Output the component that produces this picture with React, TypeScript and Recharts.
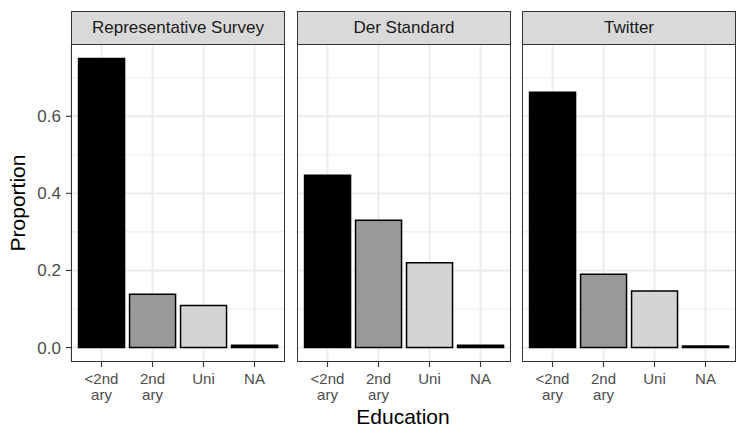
import React from 'react';
import { BarChart, Bar, XAxis, YAxis, CartesianGrid, Cell } from 'recharts';

const categories = ['<2nd ary', '2nd ary', 'Uni', 'NA'];
const facets = ['Representative Survey', 'Der Standard', 'Twitter'];
const surveyValues = [0.75, 0.138, 0.109, 0.006];
const standardValues = [0.447, 0.33, 0.22, 0.006];
const twitterValues = [0.662, 0.19, 0.147, 0.004];
const yTicks = [0, 0.2, 0.4, 0.6];
const yMinorTicks = [0.1, 0.3, 0.5, 0.7];

const facetValues = [surveyValues, standardValues, twitterValues];
const fills = ['#000000', '#999999', '#d4d4d4', '#000000'];
const FONT = '"Liberation Sans", Arial, Helvetica, sans-serif';

const PLOT_TOP = 44;
const PLOT_BOTTOM = 362;
const PANEL_W = 214;
const panelLefts = [71, 297, 522];
const Y_AXIS_W = 71;

const XTick = (props: any) => {
  const { x, y, payload } = props;
  const lines = String(payload.value).split(' ');
  return (
    <text x={x} y={y} textAnchor="middle" fill="#4d4d4d" fontSize={15} fontFamily={FONT}>
      {lines.map((l, i) => (
        <tspan key={i} x={x} dy={i === 0 ? '0.71em' : '1.1em'}>{l}</tspan>
      ))}
    </text>
  );
};

const Panel: React.FC<{ index: number }> = ({ index }) => {
  const values = facetValues[index];
  const data = categories.map((c, i) => ({ name: c, value: values[i] }));
  const withAxis = index === 0;
  const left = panelLefts[index] - (withAxis ? Y_AXIS_W : 0);
  const width = PANEL_W + (withAxis ? Y_AXIS_W : 0);
  return (
    <div style={{ position: 'absolute', left, top: 0 }}>
      <BarChart
        width={width}
        height={440}
        data={data}
        margin={{ top: PLOT_TOP, right: 0, left: 0, bottom: 440 - PLOT_BOTTOM - 40 }}
        barCategoryGap="5%"
      >
        <CartesianGrid horizontalValues={yMinorTicks} vertical={false} stroke="#ebebeb" strokeWidth={1.1} />
        <CartesianGrid horizontalValues={yTicks} stroke="#ebebeb" strokeWidth={1.9} />
        <XAxis
          dataKey="name"
          padding={{ left: 5, right: 5 }}
          axisLine={false}
          tickLine={{ stroke: '#333333', strokeWidth: 1.1 }}
          tickSize={5}
          tickMargin={6}
          height={40}
          tick={<XTick />}
          interval={0}
        />
        <YAxis
          hide={!withAxis}
          width={withAxis ? Y_AXIS_W : 0}
          domain={[-0.0375, 0.7875]}
          allowDataOverflow
          ticks={yTicks}
          tickFormatter={(v: number) => v.toFixed(1)}
          axisLine={false}
          tickLine={{ stroke: '#333333', strokeWidth: 1.1 }}
          tickSize={5}
          tickMargin={5}
          tick={{ fill: '#4d4d4d', fontSize: 17, fontFamily: FONT }}
        />
        <Bar dataKey="value" stroke="#000000" strokeWidth={1.5} isAnimationActive={false}>
          {data.map((d, i) => (
            <Cell key={d.name} fill={fills[i]} />
          ))}
        </Bar>
      </BarChart>
      <div
        style={{
          position: 'absolute',
          left: withAxis ? Y_AXIS_W : 0,
          top: PLOT_TOP,
          width: PANEL_W,
          height: PLOT_BOTTOM - PLOT_TOP,
          border: '1px solid #333333',
          boxSizing: 'border-box',
          pointerEvents: 'none',
        }}
      />
      <div
        style={{
          position: 'absolute',
          left: withAxis ? Y_AXIS_W : 0,
          top: 11,
          width: PANEL_W,
          height: 34,
          border: '1px solid #333333',
          boxSizing: 'border-box',
          background: '#d9d9d9',
          color: '#1a1a1a',
          fontFamily: FONT,
          fontSize: 17,
          lineHeight: '32px',
          textAlign: 'center',
        }}
      >
        {facets[index]}
      </div>
    </div>
  );
};

const App: React.FC = () => {
  return (
    <div style={{ position: 'absolute', left: 0, top: 0, width: 747, height: 440, background: '#fff', overflow: 'hidden' }}>
      {facets.map((f, i) => (
        <Panel key={f} index={i} />
      ))}
      <div
        style={{
          position: 'absolute',
          left: 18,
          top: 203,
          transform: 'translate(-50%, -50%) rotate(-90deg)',
          fontFamily: FONT,
          fontSize: 21,
          color: '#000',
          whiteSpace: 'nowrap',
        }}
      >
        Proportion
      </div>
      <div
        style={{
          position: 'absolute',
          left: 403,
          top: 417,
          transform: 'translate(-50%, -50%)',
          fontFamily: FONT,
          fontSize: 21,
          color: '#000',
          whiteSpace: 'nowrap',
        }}
      >
        Education
      </div>
    </div>
  );
};

export default App;
